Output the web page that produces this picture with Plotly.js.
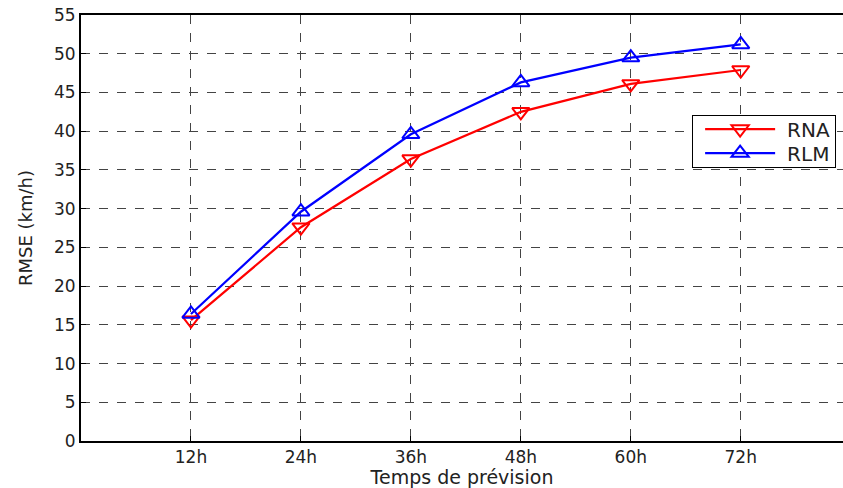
<!DOCTYPE html>
<html>
<head>
<meta charset="utf-8">
<script src="https://cdn.plot.ly/plotly-3.0.1.min.js"></script>
<style>
html,body{margin:0;padding:0;background:#fff;overflow:hidden;}
#chart{width:843px;height:488px;}
</style>
</head>
<body>
<div id="chart"></div>
<script>
var categories = ["12h", "24h", "36h", "48h", "60h", "72h"];
var rnaValues = [15.6, 27.6, 36.4, 42.5, 46.1, 47.9];
var rlmValues = [16.4, 29.6, 39.6, 46.3, 49.5, 51.2];
var yTicks = [0, 5, 10, 15, 20, 25, 30, 35, 40, 45, 50, 55];

var traces = [
  {
    x: categories, y: rnaValues, name: "RNA", type: "scatter", mode: "lines+markers",
    line: {color: "#ff0000", width: 2.2},
    marker: {symbol: "triangle-down-open", size: 15, color: "#ff0000", line: {width: 2, color: "#ff0000"}}
  },
  {
    x: categories, y: rlmValues, name: "RLM", type: "scatter", mode: "lines+markers",
    line: {color: "#0000ff", width: 2.2},
    marker: {symbol: "triangle-up-open", size: 15, color: "#0000ff", line: {width: 2, color: "#0000ff"}}
  }
];

var fam = "DejaVu Sans, Verdana, sans-serif";
var tickFont = {family: fam, size: 17, color: "#222"};

var layout = {
  width: 843, height: 488,
  margin: {l: 81, r: 0, t: 15, b: 47},
  paper_bgcolor: "#fff", plot_bgcolor: "#fff",
  font: {family: fam, size: 17, color: "#222"},
  showlegend: true,
  legend: {
    x: 0.802, y: 0.765, xanchor: "left", yanchor: "top",
    bgcolor: "#fff", bordercolor: "#000", borderwidth: 1,
    font: {family: fam, size: 20, color: "#222"},
    tracegroupgap: 0, itemwidth: 84
  },
  xaxis: {
    type: "category", categoryorder: "array", categoryarray: categories,
    range: [-1, 5.93],
    showline: true, linecolor: "#000", linewidth: 2, mirror: true,
    ticks: "inside", ticklen: 5, tickcolor: "#000",
    showgrid: true, gridcolor: "#444", griddash: "dash", gridwidth: 1,
    zeroline: false,
    tickfont: tickFont,
    title: {text: "Temps de prévision", font: {family: fam, size: 19, color: "#222"}, standoff: 9}
  },
  yaxis: {
    range: [0, 55], tickvals: yTicks,
    showline: true, linecolor: "#000", linewidth: 2, mirror: false,
    ticks: "inside", ticklen: 5, tickcolor: "#000",
    showgrid: true, gridcolor: "#444", griddash: "dash", gridwidth: 1,
    zeroline: false,
    tickfont: tickFont,
    title: {text: "RMSE (km/h)", font: {family: fam, size: 18, color: "#222"}, standoff: 17}
  }
};

Plotly.newPlot("chart", traces, layout, {displayModeBar: false, staticPlot: true}).then(function (gd) {
  // reshape legend entries: long sample strokes, tighter rows (as in the reference)
  var items = gd.querySelectorAll(".legend .traces");
  items.forEach(function (it, i) {
    var ln = it.querySelector("path.js-line");
    if (ln) ln.setAttribute("d", "M12,0h70");
    var pts = it.querySelectorAll(".legendpoints path.scatterpts");
    pts.forEach(function (p) { p.setAttribute("transform", "translate(47,0)"); });
    it.setAttribute("transform", "translate(1," + (14 + 24 * i) + ")");
  });
  var bg = gd.querySelector(".legend rect.bg");
  if (bg) bg.setAttribute("height", "52");
});
</script>
</body>
</html>
